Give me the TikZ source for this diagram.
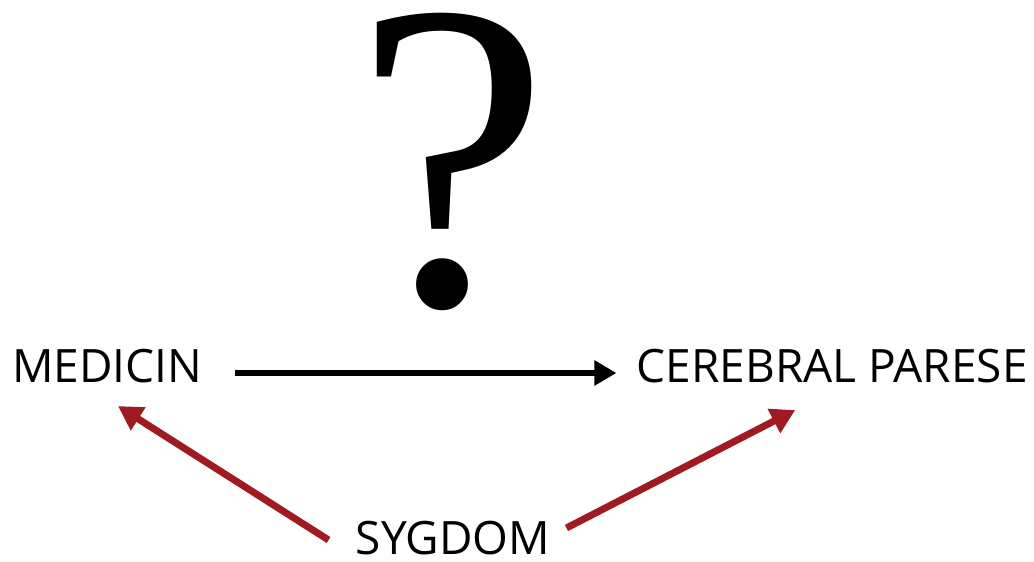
\documentclass[tikz,border=0pt]{standalone}
\usepackage{fontspec}
\setmainfont{Open Sans}
\newfontfamily\qfont{Liberation Serif}
\usetikzlibrary{arrows.meta}
\usetikzlibrary{positioning}
\definecolor{darkred}{HTML}{A01B20}

\begin{document}
\begin{tikzpicture}[x=1pt,y=1pt,
    label/.style={inner sep=0pt, font=\fontsize{46}{48}\selectfont},
    cause/.style={line width=6pt, -{Triangle[length=22pt,width=24pt]}},
    confound/.style={line width=7pt, darkred, -{Triangle[length=24pt,width=26pt]}}]
            \useasboundingbox (0,0) rectangle (1034,562);
            \node[label] (med) at (107,196) {MEDICIN};
            \node[label, anchor=east] (cp) at (1028,196) {CEREBRAL PARESE};
            \node[label] (syg) at (453,24) {SYGDOM};
            \node[inner sep=0pt, font=\qfont\fontsize{440}{440}\selectfont] (q) at (452,400) {?};
    	    \path[cause] ([xshift=33pt,yshift=-7pt]med.east) edge ([xshift=-20pt,yshift=-7pt]cp.west);
    	    \path[confound] ([xshift=-27pt,yshift=-2pt]syg.west) edge ([xshift=11pt,yshift=-23pt]med.south);
    	    \path[confound] ([xshift=16pt,yshift=10pt]syg.east) edge ([xshift=-37pt,yshift=-27pt]cp.south);
    	\end{tikzpicture}
\end{document}
